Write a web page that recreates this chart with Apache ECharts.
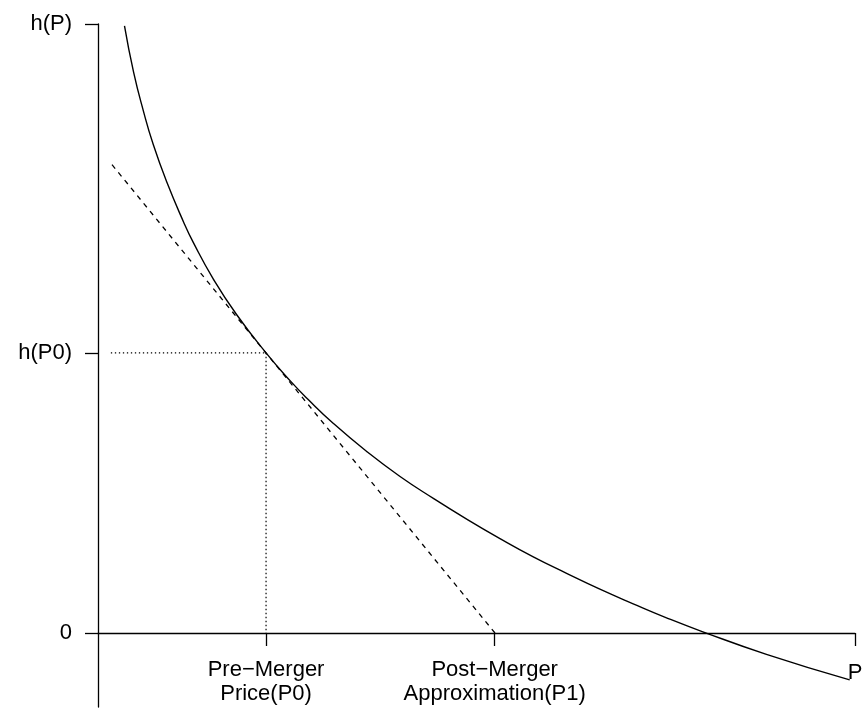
<!DOCTYPE html>
<html><head><meta charset="utf-8">
<script src="https://cdn.jsdelivr.net/npm/echarts@6/dist/echarts.min.js"></script>
<style>html,body{margin:0;padding:0;background:#fff}#c{width:862px;height:713px}</style>
</head><body><div id="c"></div>
<script>
// h(P) curve
const curveX = [0.35, 0.47, 0.60, 0.73, 0.91, 1.13, 1.26, 1.52, 1.83, 2.22, 2.54, 2.78, 3.11, 3.55, 3.99, 4.43, 4.87, 5.31, 5.75, 6.19, 6.63, 7.07, 7.51, 7.99, 8.83, 9.93];
const curveY = [9.97, 9.21, 8.57, 8.02, 7.40, 6.75, 6.41, 5.82, 5.23, 4.60, 4.14, 3.83, 3.44, 2.98, 2.57, 2.21, 1.87, 1.55, 1.25, 0.98, 0.72, 0.48, 0.25, 0.02, -0.35, -0.77];
// tangent (dashed) line
const tangentX = [0.185, 5.244];
const tangentY = [7.69, 0.0];
// pre-merger point and dotted guides
const p0 = 2.22;
const hP0 = 4.60;
const dotStartX = 0.17;
// axes
const xTickValues = [2.22, 5.24, 10];
const xTickLabels = ['Pre\u2212Merger\nPrice(P0)', 'Post\u2212Merger\nApproximation(P1)', 'P'];
const yTickValues = [0, 4.60, 10];
const yTickLabels = ['0', 'h(P0)', 'h(P)'];
const xMin = 0, xMax = 10, yMin = -1.215, yMax = 10;

const W = 862, H = 713;
const gridL = 98, gridR = 7, gridT = 24, gridB = 6;
const gridH = H - gridT - gridB;
// shift the x axis (line, ticks, labels) up to y = 0
const xOffset = -((0 - yMin) / (yMax - yMin)) * gridH;

const font = 'Liberation Sans, Arial, sans-serif';
const fs = 22;
const chart = echarts.init(document.getElementById('c'), null, {renderer: 'canvas'});
chart.setOption({
  animation: false,
  backgroundColor: '#fff',
  grid: {left: gridL, right: gridR, top: gridT, bottom: gridB, containLabel: false, outerBoundsMode: 'none'},
  xAxis: {
    type: 'value', min: xMin, max: xMax, position: 'bottom', offset: xOffset,
    axisLine: {show: true, onZero: false, lineStyle: {color: '#000', width: 1.3}},
    axisTick: {show: true, length: 13, customValues: xTickValues, lineStyle: {color: '#000', width: 1.3}},
    axisLabel: {
      show: true, customValues: xTickValues, margin: 25,
      color: '#000', fontFamily: font, fontSize: fs, lineHeight: 24,
      formatter: function (v) {
        const i = xTickValues.findIndex(t => Math.abs(t - v) < 1e-6);
        if (i === xTickLabels.length - 1) return '{p|' + xTickLabels[i] + '}';
        return i >= 0 ? xTickLabels[i] : '';
      },
      rich: {p: {color: '#000', fontFamily: font, fontSize: fs, lineHeight: 24, padding: [5, 0, 0, 0]}}
    },
    splitLine: {show: false}
  },
  yAxis: {
    type: 'value', min: yMin, max: yMax,
    axisLine: {show: true, onZero: false, lineStyle: {color: '#000', width: 1.3}},
    axisTick: {show: true, length: 13, customValues: yTickValues, lineStyle: {color: '#000', width: 1.3}},
    axisLabel: {
      show: true, customValues: yTickValues, margin: 26,
      color: '#000', fontFamily: font, fontSize: fs,
      formatter: function (v) {
        const i = yTickValues.findIndex(t => Math.abs(t - v) < 1e-6);
        return i >= 0 ? yTickLabels[i] : '';
      }
    },
    splitLine: {show: false}
  },
  series: [
    {
      type: 'line', name: 'h(P)', smooth: 0.5, showSymbol: false, silent: true,
      lineStyle: {color: '#000', width: 1.4},
      data: curveX.map((x, i) => [x, curveY[i]])
    },
    {
      type: 'line', name: 'tangent', showSymbol: false, silent: true,
      lineStyle: {color: '#000', width: 1.3, type: [5, 5]},
      data: tangentX.map((x, i) => [x, tangentY[i]])
    },
    {
      type: 'line', name: 'hguide', showSymbol: false, silent: true,
      lineStyle: {color: '#000', width: 1.2, type: [1.3, 2.7]},
      data: [[dotStartX, hP0], [p0, hP0]]
    },
    {
      type: 'line', name: 'vguide', showSymbol: false, silent: true,
      lineStyle: {color: '#000', width: 1.2, type: [1.3, 2.7]},
      data: [[p0, hP0], [p0, 0]]
    }
  ]
});
</script>
</body></html>
